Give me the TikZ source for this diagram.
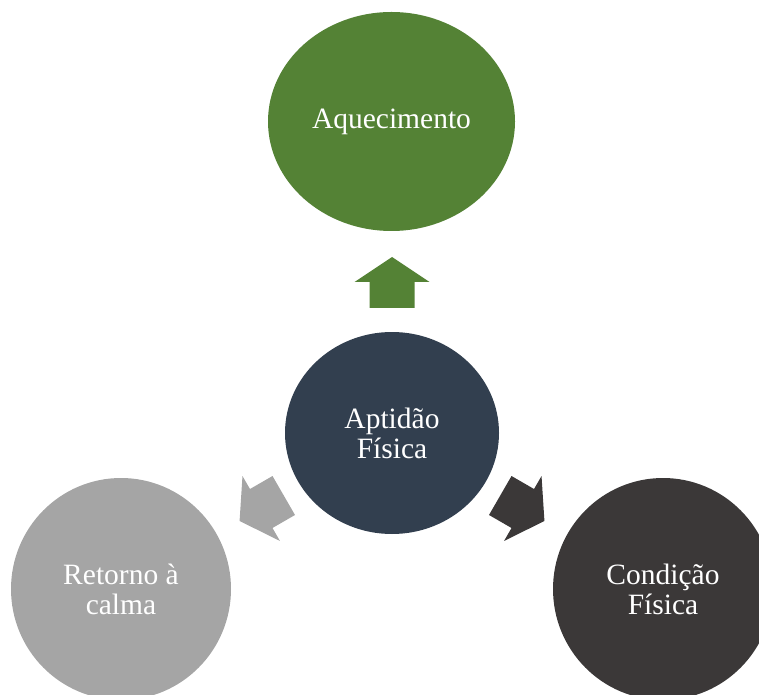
\documentclass[tikz,border=0pt]{standalone}
\usepackage{fontspec}
\setmainfont{Liberation Serif}
\usetikzlibrary{shapes.geometric}

\definecolor{verde}{RGB}{84,130,53}
\definecolor{azul}{RGB}{50,63,79}
\definecolor{cinza}{RGB}{165,165,165}
\definecolor{grafite}{RGB}{59,56,56}

\tikzset{
  bola/.style={ellipse, inner sep=0pt, text=white, align=center,
    font=\fontsize{29.5}{30}\selectfont},
}

\begin{document}
\begin{tikzpicture}[x=1pt,y=1pt]
    \useasboundingbox (0,0) rectangle (759,694);
    \clip (0,0) rectangle (759,694);

    % Central circle
    \node[bola, fill=azul, minimum width=214, minimum height=202] (centro) at (392,261) {Aptidão\\Física};

    % Outer circles
    \node[bola, fill=verde, minimum width=247, minimum height=219] (aquecimento) at (391.5,572.5) {Aquecimento};
    \node[bola, fill=cinza, minimum width=220, minimum height=222] (retorno) at (121,105) {Retorno à\\calma};
    \node[bola, fill=grafite, minimum width=220, minimum height=222] (condicao) at (663,105) {Condição\\Física};

    % Block arrows pointing out of the centre
    \foreach \ang/\cor in {90/verde, 210/cinza, 330/grafite} {
        \begin{scope}[shift={(centro.center)}, rotate=\ang]
            \fill[\cor] (125,-22.5) -- (151,-22.5) -- (151,-37.5) -- (176,0)
                -- (151,37.5) -- (151,22.5) -- (125,22.5) -- cycle;
        \end{scope}
    }
\end{tikzpicture}
\end{document}
